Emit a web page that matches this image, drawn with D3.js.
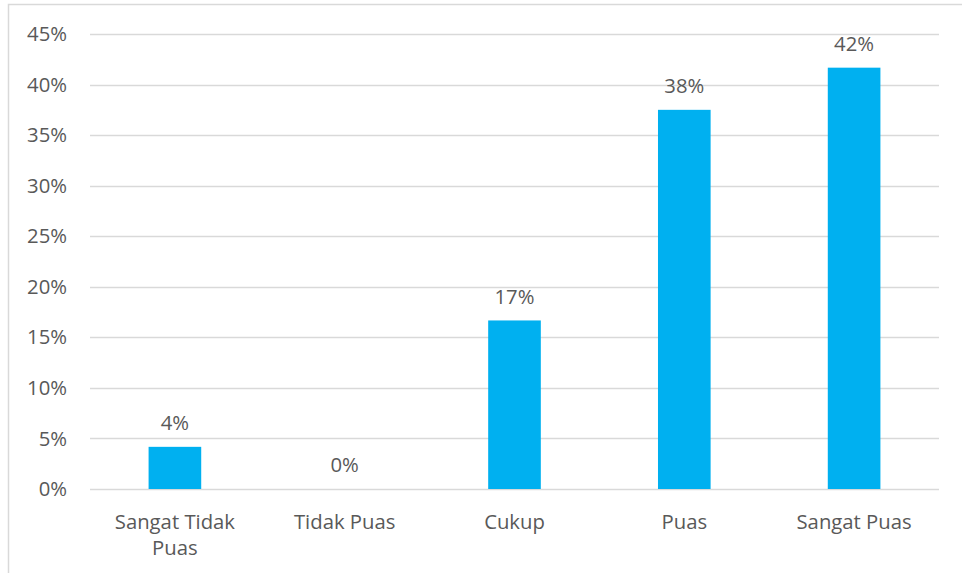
<!DOCTYPE html>
<meta charset="utf-8">
<script src="https://d3js.org/d3.v7.min.js"></script>
<style>
  body { margin: 0; background: #fff; }
  text { font-family: "Open Sans", sans-serif; fill: #595959; }
</style>
<body>
<script>

    var categories = ["Sangat Tidak Puas", "Tidak Puas", "Cukup", "Puas", "Sangat Puas"],
        values = [4.17, 0, 16.67, 37.5, 41.67],
        ticks = [0, 5, 10, 15, 20, 25, 30, 35, 40, 45];

    var width = 962,
        height = 573,
        plotLeft = 90, plotRight = 939,
        plotTop = 34, plotBottom = 489,
        fontSize = "20.3px";

    var svg = d3.select("body").append("svg")
        .attr("width", width)
        .attr("height", height);

    // chart frame (only top and left edges are in view)
    svg.append("path")
        .attr("d", "M8.5," + height + "V4.5H" + width)
        .attr("fill", "none")
        .attr("stroke", "#d9d9d9")
        .attr("stroke-width", 1.5);

    var x = d3.scaleBand()
        .domain(categories)
        .range([plotLeft, plotRight])
        .paddingInner(0.69)
        .paddingOuter(0.345);

    var y = d3.scaleLinear()
        .domain([0, 45])
        .range([plotBottom, plotTop]);

    svg.append("g")
        .selectAll("line")
        .data(ticks)
        .join("line")
        .attr("x1", plotLeft)
        .attr("x2", plotRight)
        .attr("y1", function(d) { return Math.round(y(d)) + 0.5; })
        .attr("y2", function(d) { return Math.round(y(d)) + 0.5; })
        .attr("stroke", "#d9d9d9")
        .attr("stroke-width", 1.3);

    svg.append("g")
        .selectAll("text")
        .data(ticks)
        .join("text")
        .attr("x", 67)
        .attr("y", function(d) { return y(d); })
        .attr("dy", "0.35em")
        .attr("text-anchor", "end")
        .style("font-size", fontSize)
        .text(function(d) { return d + "%"; });

    svg.append("g")
        .selectAll("rect")
        .data(values)
        .join("rect")
        .attr("x", function(d, i) { return x(categories[i]); })
        .attr("width", x.bandwidth())
        .attr("y", function(d) { return y(d); })
        .attr("height", function(d) { return y(0) - y(d); })
        .attr("fill", "#00b0f0");

    svg.append("g")
        .selectAll("text")
        .data(values)
        .join("text")
        .attr("x", function(d, i) { return x(categories[i]) + x.bandwidth() / 2; })
        .attr("y", function(d) { return y(d) - 24; })
        .attr("dy", "0.35em")
        .attr("text-anchor", "middle")
        .style("font-size", fontSize)
        .text(function(d) { return Math.round(d) + "%"; });

    // category labels, wrapped like the original
    var lines = [["Sangat Tidak", "Puas"], ["Tidak Puas"], ["Cukup"], ["Puas"], ["Sangat Puas"]];

    svg.append("g")
        .selectAll("text")
        .data(categories)
        .join("text")
        .attr("text-anchor", "middle")
        .style("font-size", fontSize)
        .each(function(d, i) {
          d3.select(this).selectAll("tspan")
              .data(lines[i])
              .join("tspan")
              .attr("x", x(d) + x.bandwidth() / 2)
              .attr("y", function(t, j) { return 522 + j * 26; })
              .attr("dy", "0.35em")
              .text(function(t) { return t; });
        });
</script>
</body>
